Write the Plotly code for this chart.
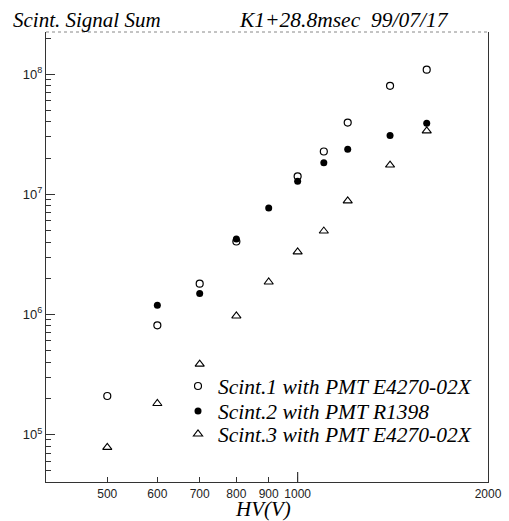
import plotly.graph_objects as go

# Data (HV in volts, signal sum)
hv1 = [500, 600, 700, 800, 1000, 1100, 1200, 1400, 1600]
sig1 = [2.09e5, 8.1e5, 1.8e6, 4.04e6, 1.41e7, 2.27e7, 3.95e7, 8.0e7, 1.09e8]

hv2 = [600, 700, 800, 900, 1000, 1100, 1200, 1400, 1600]
sig2 = [1.19e6, 1.49e6, 4.23e6, 7.7e6, 1.28e7, 1.83e7, 2.37e7, 3.08e7, 3.9e7]

hv3 = [500, 600, 700, 800, 900, 1000, 1100, 1200, 1400, 1600]
sig3 = [7.8e4, 1.81e5, 3.85e5, 9.7e5, 1.86e6, 3.31e6, 4.94e6, 8.8e6, 1.75e7, 3.37e7]

names = ["Scint.1 with PMT E4270-02X", "Scint.2 with PMT R1398", "Scint.3 with PMT E4270-02X"]

x_ticks = [500, 600, 700, 800, 900, 1000, 2000]
x_labels = ["500", "600", "700", "800", "900", "1000", "2000"]
y_ticks = [1e5, 1e6, 1e7, 1e8]
y_labels = ["10<sup>5</sup>", "10<sup>6</sup>", "10<sup>7</sup>", "10<sup>8</sup>"]

serif = "Liberation Serif, Times New Roman, serif"
sans = "Liberation Sans, Arial, sans-serif"

L, R, T, B = 46, 21, 32, 39
W, H = 509, 521
PW, PH = W - L - R, H - T - B

def px_x(p):
    return (p - L) / PW

def px_y(p):
    return (H - B - p) / PH

fig = go.Figure()
fig.add_trace(go.Scatter(x=hv1, y=sig1, mode="markers", name="<i>" + names[0] + "</i>", legend="legend",
                         marker=dict(symbol="circle-open", size=7, color="black", line=dict(width=1.2))))
fig.add_trace(go.Scatter(x=hv2, y=sig2, mode="markers", name="<i>" + names[1] + "</i>", legend="legend2",
                         marker=dict(symbol="circle", size=7, color="black")))
fig.add_trace(go.Scatter(x=hv3, y=sig3, mode="markers", name="<i>" + names[2] + "</i>", legend="legend3",
                         marker=dict(symbol="triangle-up-open", size=8, color="black", line=dict(width=1.1))))

leg_common = dict(xanchor="left", yanchor="middle", font=dict(family=serif, size=21.5, color="black"),
                  bgcolor="rgba(0,0,0,0)", itemwidth=30)

fig.update_layout(
    width=W, height=H,
    margin=dict(l=L, r=R, t=T, b=B),
    paper_bgcolor="white", plot_bgcolor="white",
    showlegend=True,
    legend=dict(x=px_x(178), y=px_y(386), **leg_common),
    legend2=dict(x=px_x(178), y=px_y(411), **leg_common),
    legend3=dict(x=px_x(178), y=px_y(434), **leg_common),
    xaxis=dict(type="log", range=[2.60206, 3.30103], automargin=False,
               tickvals=x_ticks, ticktext=x_labels,
               ticks="inside", ticklen=5, tickcolor="#333",
               showline=True, linecolor="#333", linewidth=1.2, mirror=False,
               showgrid=False, zeroline=False,
               tickfont=dict(family=sans, size=12, color="#222")),
    yaxis=dict(type="log", range=[4.604, 8.351], automargin=False,
               tickvals=y_ticks, ticktext=y_labels,
               ticks="inside", ticklen=9, tickcolor="#333",
               minor=dict(ticks="inside", ticklen=5, tickcolor="#333", dtick="D1", showgrid=False),
               showline=True, linecolor="#333", linewidth=1.2, mirror=True,
               showgrid=False, zeroline=False,
               tickfont=dict(family=sans, size=13, color="#222")),
)

# dotted top border
fig.add_shape(type="line", xref="paper", yref="paper", x0=0, x1=1, y0=1, y1=1,
              line=dict(color="#888", width=1, dash="dot"))
# longer tick at 1000
fig.add_shape(type="line", xref="x", yref="paper", x0=1000, x1=1000, y0=0, y1=10 / PH,
              line=dict(color="#333", width=1.2))

fig.add_annotation(text="<i>Scint. Signal Sum</i>", xref="paper", yref="paper",
                   x=px_x(11), y=px_y(20), xanchor="left", yanchor="middle", showarrow=False,
                   font=dict(family=serif, size=21, color="black"))
fig.add_annotation(text="<i>K1+28.8msec\u00a0 99/07/17</i>", xref="paper", yref="paper",
                   x=px_x(237), y=px_y(20), xanchor="left", yanchor="middle", showarrow=False,
                   font=dict(family=serif, size=21.5, color="black"))
fig.add_annotation(text="<i>HV(V)</i>", xref="paper", yref="paper",
                   x=px_x(263), y=px_y(508.5), xanchor="center", yanchor="middle", showarrow=False,
                   font=dict(family=serif, size=21, color="black"))

fig.write_html("out.html", config={"displayModeBar": False},
               post_script="document.body.style.margin='0';document.body.style.overflow='hidden';")
